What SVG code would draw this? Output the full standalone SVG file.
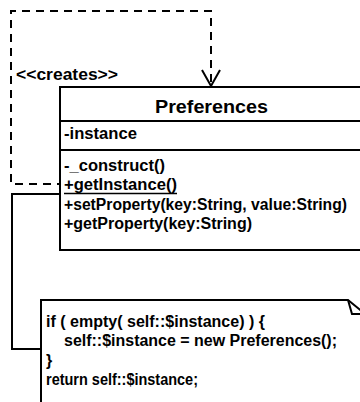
<svg xmlns="http://www.w3.org/2000/svg" width="360" height="402" viewBox="0 0 360 402">
<defs>
<style>
.t{font-family:"Liberation Sans",Arial,sans-serif;font-weight:bold;font-size:16px;fill:#000}
.h{font-size:19px}
.box{fill:#fff;stroke:#000;stroke-width:2}
.ln{fill:none;stroke:#000;stroke-width:2}
.dash{fill:none;stroke:#000;stroke-width:2;stroke-dasharray:8,6}
</style>
</defs>
<rect width="360" height="402" fill="#fff"/>
<g id="connectors">
<path class="dash" d="M211,82 V11 H11 V184 H60"/>
<path class="ln" d="M202,70 L211,86 L220,70"/>
<path class="ln" d="M60,194 H12 V349 H41"/>
<text class="t" x="16" y="80" textLength="102" lengthAdjust="spacingAndGlyphs">&lt;&lt;creates&gt;&gt;</text>
</g>
<g id="preferences">
<rect class="box" x="60" y="87" width="310" height="163"/>
<line class="ln" x1="60" y1="121" x2="370" y2="121"/>
<line class="ln" x1="60" y1="150" x2="370" y2="150"/>
<text class="t h" x="155" y="113" textLength="113" lengthAdjust="spacingAndGlyphs">Preferences</text>
<text class="t" x="64" y="139" textLength="73" lengthAdjust="spacingAndGlyphs">-instance</text>
<text class="t" x="64" y="171" textLength="101" lengthAdjust="spacingAndGlyphs">-_construct()</text>
<text class="t" x="64" y="190" textLength="113" lengthAdjust="spacingAndGlyphs">+getInstance()</text>
<line x1="64" y1="193.5" x2="177" y2="193.5" stroke="#000" stroke-width="1.5"/>
<text class="t" x="64" y="210" textLength="283" lengthAdjust="spacingAndGlyphs">+setProperty(key:String, value:String)</text>
<text class="t" x="64" y="229" textLength="188" lengthAdjust="spacingAndGlyphs">+getProperty(key:String)</text>
</g>
<g id="note">
<path class="box" d="M41,300 H348 L370,318 V410 H41 Z"/>
<path class="ln" d="M348,300 L352,314 H365"/>
<text class="t" x="46" y="327" textLength="219" lengthAdjust="spacingAndGlyphs">if ( empty( self::$instance) ) {</text>
<text class="t" x="64" y="346" textLength="273" lengthAdjust="spacingAndGlyphs">self::$instance = new Preferences();</text>
<text class="t" x="46" y="366">}</text>
<text class="t" x="46" y="385" textLength="152" lengthAdjust="spacingAndGlyphs">return self::$instance;</text>
</g>
</svg>
